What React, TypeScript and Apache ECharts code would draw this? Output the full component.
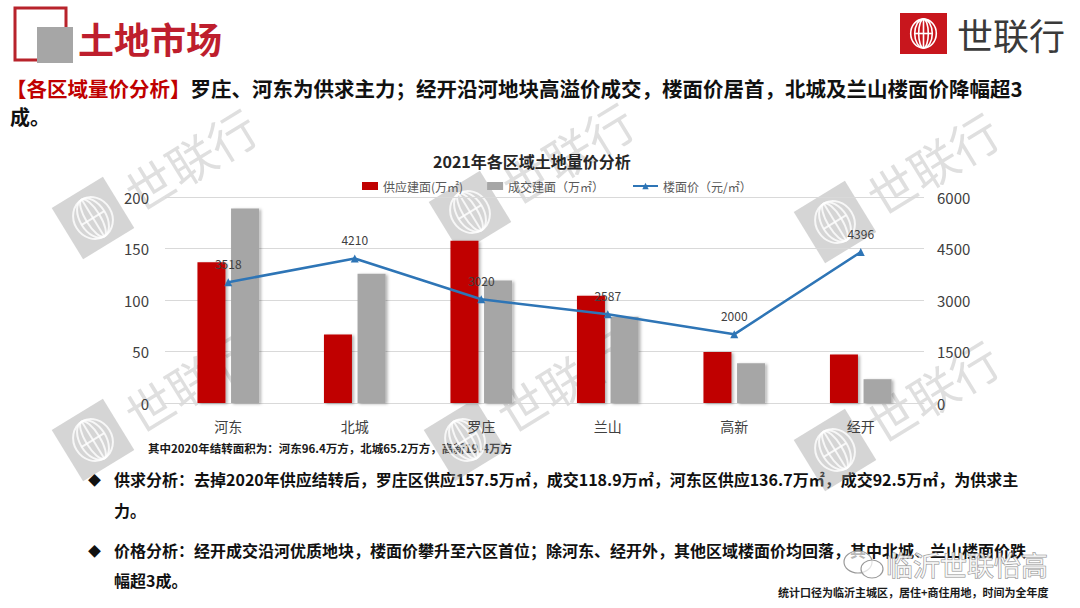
import React, { useEffect, useRef } from "react";
import * as echarts from "echarts";

const categories = ["河东", "北城", "罗庄", "兰山", "高新", "经开"];
const supplyArea = [136.7, 66.6, 157.5, 104.2, 49.4, 47.1];
const dealArea = [188.9, 125.6, 118.9, 83.8, 38.6, 23.1];
const floorPrice = [3518, 4210, 3020, 2587, 2000, 4396];
const leftTicks = [0, 50, 100, 150, 200];
const rightTicks = [0, 1500, 3000, 4500, 6000];

const seriesNames = ["供应建面(万㎡)", "成交建面（万㎡）", "楼面价（元/㎡）"];
const chartTitle = "2021年各区域土地量价分析";
const footnote = "其中2020年结转面积为：河东96.4万方，北城65.2万方，高新19.4万方";
const pageTitle = "土地市场";
const brandName = "世联行";
const subtitleRed = "【各区域量价分析】";
const subtitleLine1 = "罗庄、河东为供求主力；经开沿河地块高溢价成交，楼面价居首，北城及兰山楼面价降幅超3";
const subtitleLine2 = "成。";
const bullet1a = "供求分析：去掉2020年供应结转后，罗庄区供应157.5万㎡，成交118.9万㎡，河东区供应136.7万㎡，成交92.5万㎡，为供求主";
const bullet1b = "力。";
const bullet2a = "价格分析：经开成交沿河优质地块，楼面价攀升至六区首位；除河东、经开外，其他区域楼面价均回落，其中北城、兰山楼面价跌";
const bullet2b = "幅超3成。";
const sourceNote = "统计口径为临沂主城区，居住+商住用地，时间为全年度";
const wechatMark = "临沂世联怡高";

const FONT = "'Noto Sans CJK SC', 'Noto Sans', sans-serif";

const watermarkCenters = [
  [93, 218],
  [470, 212],
  [835, 222],
  [93, 440],
  [465, 440],
  [835, 450],
];

function logoLines(cx: number, cy: number, s: number, color: string, lw: number) {
  const items: any[] = [];
  const rxs = [0.12, 0.22, 0.32];
  rxs.forEach((r) => {
    items.push({
      type: "ellipse",
      shape: { cx, cy, rx: r * s, ry: 0.36 * s },
      style: { fill: "none", stroke: color, lineWidth: lw },
      silent: true,
    });
  });
  items.push({
    type: "line",
    shape: { x1: cx - 0.22 * s, y1: cy, x2: cx + 0.22 * s, y2: cy },
    style: { stroke: color, lineWidth: lw },
    silent: true,
  });
  items.push({
    type: "line",
    shape: { x1: cx, y1: cy - 0.36 * s, x2: cx, y2: cy + 0.36 * s },
    style: { stroke: color, lineWidth: lw },
    silent: true,
  });
  return items;
}

export default function App() {
  const ref = useRef<HTMLDivElement>(null);

  useEffect(() => {
    if (!ref.current) return;
    const chart = echarts.init(ref.current, null, { renderer: "svg" });

    const watermarks = watermarkCenters.map(([x, y]) => ({
      type: "group",
      x,
      y,
      rotation: 0.55,
      silent: true,
      z: 100,
      children: [
        {
          type: "rect",
          shape: { x: -30, y: -30, width: 60, height: 60 },
          style: { fill: "rgba(150,150,150,0.4)" },
          silent: true,
        },
        ...logoLines(0, 0, 60, "rgba(255,255,255,0.8)", 2),
        {
          type: "text",
          x: 42,
          y: 0,
          style: {
            text: brandName,
            font: `normal 48px ${FONT}`,
            fill: "rgba(150,150,150,0.3)",
            verticalAlign: "middle",
            align: "left",
          },
          silent: true,
        },
      ],
    }));

    const option: any = {
      animation: false,
      backgroundColor: "#ffffff",
      textStyle: { fontFamily: FONT },
      title: {
        text: chartTitle,
        left: 428,
        top: 148,
        textStyle: { fontSize: 16, fontWeight: "bold", color: "#262626", fontFamily: FONT },
      },
      legend: [
        {
          data: [seriesNames[0], seriesNames[1]],
          left: 357,
          top: 175,
          itemWidth: 16,
          itemHeight: 8,
          itemGap: 24,
          icon: "rect",
          textStyle: { fontSize: 12, color: "#595959", fontFamily: FONT },
        },
        {
          data: [seriesNames[2]],
          left: 627,
          top: 175,
          itemWidth: 25,
          itemHeight: 8,
          textStyle: { fontSize: 12, color: "#595959", fontFamily: FONT },
        },
      ],
      grid: { left: 165, right: 156, top: 197, height: 206, containLabel: false },
      xAxis: {
        type: "category",
        data: categories,
        axisLine: { lineStyle: { color: "#D9D9D9", width: 1 } },
        axisTick: { show: false },
        axisLabel: { fontSize: 14, color: "#404040", margin: 16, fontFamily: FONT },
      },
      yAxis: [
        {
          type: "value",
          min: leftTicks[0],
          max: leftTicks[leftTicks.length - 1],
          interval: leftTicks[1] - leftTicks[0],
          axisLine: { show: false },
          axisTick: { show: false },
          splitLine: { lineStyle: { color: "#D9D9D9", width: 1 } },
          axisLabel: { fontSize: 15, color: "#404040", margin: 16, fontFamily: FONT },
        },
        {
          type: "value",
          min: rightTicks[0],
          max: rightTicks[rightTicks.length - 1],
          interval: rightTicks[1] - rightTicks[0],
          axisLine: { show: false },
          axisTick: { show: false },
          splitLine: { show: false },
          axisLabel: {
            fontSize: 15,
            color: "#404040",
            margin: 13,
            fontFamily: FONT,
            formatter: (v: number) => String(v),
          },
        },
      ],
      series: [
        {
          name: seriesNames[0],
          type: "bar",
          data: supplyArea,
          barWidth: 28,
          barGap: "20%",
          itemStyle: {
            color: "#C00000",
            shadowColor: "rgba(0,0,0,0.3)",
            shadowBlur: 3,
            shadowOffsetX: 2,
            shadowOffsetY: 1,
          },
        },
        {
          name: seriesNames[1],
          type: "bar",
          data: dealArea,
          barWidth: 28,
          barGap: "20%",
          itemStyle: {
            color: "#A6A6A6",
            shadowColor: "rgba(0,0,0,0.3)",
            shadowBlur: 3,
            shadowOffsetX: 2,
            shadowOffsetY: 1,
          },
        },
        {
          name: seriesNames[2],
          type: "line",
          yAxisIndex: 1,
          data: floorPrice,
          symbol: "triangle",
          symbolSize: 8,
          lineStyle: { color: "#2E75B6", width: 2.5 },
          itemStyle: { color: "#2E75B6" },
          label: {
            show: true,
            position: "top",
            distance: 9,
            fontSize: 12,
            color: "#404040",
            fontFamily: FONT,
          },
          z: 5,
        },
      ],
      graphic: [
        {
          type: "rect",
          shape: { x: 15, y: 8, width: 51, height: 52 },
          style: { fill: "none", stroke: "#B8232B", lineWidth: 3 },
          silent: true,
        },
        {
          type: "rect",
          shape: { x: 37, y: 27, width: 36, height: 36 },
          style: { fill: "#A6A6A6" },
          silent: true,
        },
        {
          type: "text",
          x: 78,
          y: 38,
          style: {
            text: pageTitle,
            font: `bold 36px ${FONT}`,
            fill: "#BE1E2D",
            verticalAlign: "middle",
          },
          silent: true,
        },
        {
          type: "rect",
          shape: { x: 900, y: 13, width: 47, height: 41 },
          style: { fill: "#C8161D" },
          silent: true,
        },
        ...logoLines(923.5, 33.5, 40, "#ffffff", 1.6),
        {
          type: "text",
          x: 957,
          y: 34,
          style: {
            text: brandName,
            font: `normal 36px ${FONT}`,
            fill: "#3a3a3a",
            verticalAlign: "middle",
          },
          silent: true,
        },
        {
          type: "text",
          x: 6,
          y: 88,
          style: {
            text: `{r|${subtitleRed}}{b|${subtitleLine1}}`,
            verticalAlign: "middle",
            rich: {
              r: { font: `bold 20.5px ${FONT}`, fill: "#C00000", lineHeight: 20 },
              b: { font: `bold 20.5px ${FONT}`, fill: "#111111", lineHeight: 20 },
            },
          },
          silent: true,
        },
        {
          type: "text",
          x: 10,
          y: 116,
          style: {
            text: subtitleLine2,
            font: `bold 20px ${FONT}`,
            fill: "#111111",
            verticalAlign: "middle",
            lineHeight: 20,
          },
          silent: true,
        },
        {
          type: "text",
          x: 148,
          y: 448,
          style: {
            text: footnote,
            font: `bold 11.5px ${FONT}`,
            fill: "#1a1a1a",
            verticalAlign: "middle",
          },
          silent: true,
        },
        {
          type: "text",
          x: 88,
          y: 479,
          style: { text: "◆", font: `13px ${FONT}`, fill: "#111", verticalAlign: "middle" },
          silent: true,
        },
        {
          type: "text",
          x: 114,
          y: 479,
          style: { text: bullet1a, font: `bold 16px ${FONT}`, fill: "#111", verticalAlign: "middle" },
          silent: true,
        },
        {
          type: "text",
          x: 114,
          y: 510,
          style: { text: bullet1b, font: `bold 16px ${FONT}`, fill: "#111", verticalAlign: "middle" },
          silent: true,
        },
        {
          type: "text",
          x: 88,
          y: 550,
          style: { text: "◆", font: `13px ${FONT}`, fill: "#111", verticalAlign: "middle" },
          silent: true,
        },
        {
          type: "text",
          x: 114,
          y: 550,
          style: { text: bullet2a, font: `bold 16px ${FONT}`, fill: "#111", verticalAlign: "middle" },
          silent: true,
        },
        {
          type: "text",
          x: 114,
          y: 580,
          style: { text: bullet2b, font: `bold 16px ${FONT}`, fill: "#111", verticalAlign: "middle" },
          silent: true,
        },
        {
          type: "text",
          x: 778,
          y: 592,
          style: { text: sourceNote, font: `bold 11px ${FONT}`, fill: "#1a1a1a", verticalAlign: "middle" },
          silent: true,
        },
        {
          type: "ellipse",
          shape: { cx: 858, cy: 562, rx: 14, ry: 11 },
          style: { fill: "rgba(255,255,255,0.7)", stroke: "#9a9a9a", lineWidth: 1.2 },
          silent: true,
          z: 110,
        },
        {
          type: "ellipse",
          shape: { cx: 872, cy: 569, rx: 11, ry: 9 },
          style: { fill: "rgba(255,255,255,0.7)", stroke: "#9a9a9a", lineWidth: 1.2 },
          silent: true,
          z: 111,
        },
        {
          type: "text",
          x: 886,
          y: 564,
          z: 110,
          style: {
            text: wechatMark,
            font: `normal 27px ${FONT}`,
            fill: "rgba(255,255,255,0.75)",
            stroke: "#8c8c8c",
            lineWidth: 1,
            verticalAlign: "middle",
          },
          silent: true,
        },
        ...watermarks,
      ],
    };

    chart.setOption(option);
    return () => chart.dispose();
  }, []);

  return (
    <div
      ref={ref}
      style={{ position: "absolute", left: 0, top: 0, width: 1080, height: 608, background: "#fff" }}
    />
  );
}
